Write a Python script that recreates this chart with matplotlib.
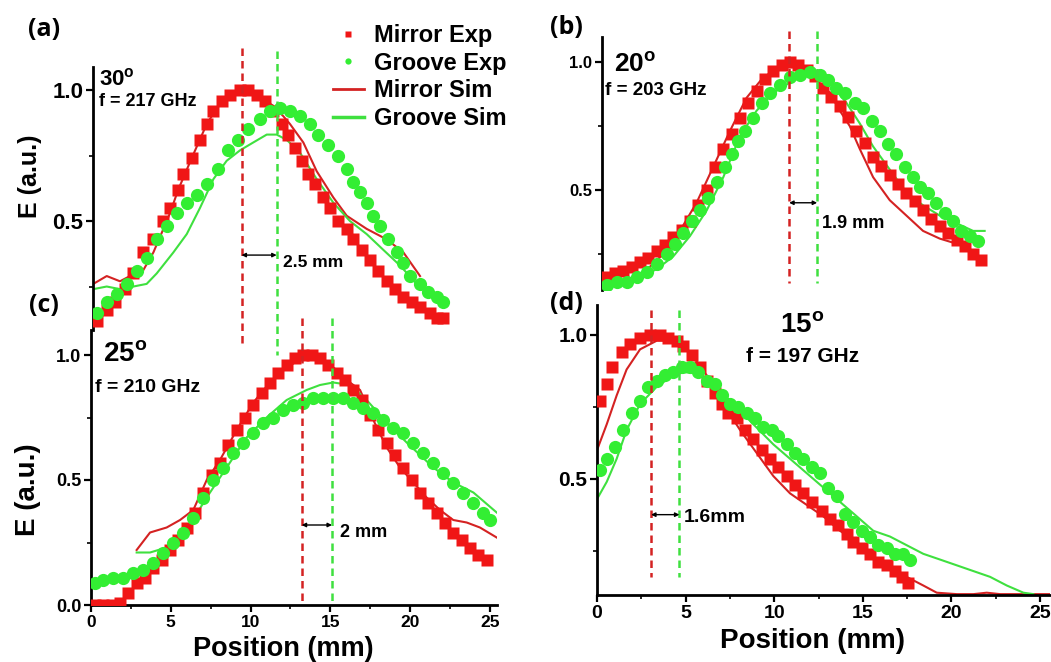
import numpy as np
import matplotlib
matplotlib.use('Agg')
from matplotlib import pyplot as plt
from matplotlib.lines import Line2D

plt.rcParams['font.family'] = ['Liberation Sans', 'DejaVu Sans']
plt.rcParams['font.weight'] = 'bold'
plt.rcParams['mathtext.fontset'] = 'custom'
plt.rcParams['mathtext.rm'] = 'Liberation Sans:bold'

# ---- panel (a) 30 deg, 217 GHz
a_mir_x = [0.23,0.86,1.38,2.00,2.53,3.15,3.78,4.41,4.82,5.34,5.66,6.18,6.70,7.12,7.54,8.06,8.58,9.21,9.73,10.25,10.77,11.29,
           11.82,12.23,12.65,13.07,13.49,13.90,14.42,14.84,15.37,15.89,16.30,16.83,17.35,17.87,18.39,18.91,19.44,19.96,20.48,21.11,21.52,21.94]
a_mir_y = [0.12,0.16,0.19,0.24,0.30,0.38,0.43,0.50,0.55,0.62,0.68,0.74,0.81,0.87,0.92,0.96,0.98,1.00,1.00,0.98,0.96,0.92,
           0.87,0.83,0.78,0.73,0.68,0.64,0.59,0.55,0.50,0.47,0.43,0.39,0.35,0.31,0.27,0.24,0.21,0.19,0.17,0.15,0.13,0.13]
a_grv_x = [0.23,0.86,1.48,2.11,2.74,3.36,3.99,4.61,5.24,5.87,6.49,7.12,7.85,8.48,9.10,9.73,10.46,11.09,11.71,12.34,12.97,13.59,
           14.12,14.74,15.37,15.89,16.30,16.72,17.14,17.56,17.97,18.50,19.02,19.44,19.86,20.48,21.00,21.52,21.94]
a_grv_y = [0.15,0.19,0.22,0.26,0.31,0.36,0.43,0.48,0.53,0.57,0.60,0.64,0.70,0.77,0.81,0.85,0.89,0.92,0.93,0.92,0.90,0.87,
           0.83,0.79,0.75,0.70,0.65,0.61,0.57,0.52,0.48,0.43,0.38,0.34,0.29,0.26,0.23,0.21,0.19]
a_msim_x = [0.02,0.86,1.69,2.32,2.94,3.78,4.41,4.82,5.34,6.18,7.12,8.06,9.21,10.25,11.29,11.92,12.34,13.17,14.01,15.05,15.89,17.14,18.39,19.44,20.48]
a_msim_y = [0.26,0.29,0.27,0.29,0.29,0.38,0.47,0.53,0.62,0.74,0.87,0.96,1.00,0.98,0.94,0.90,0.87,0.80,0.69,0.59,0.52,0.47,0.43,0.38,0.29]
a_gsim_x = [0.02,0.86,1.69,2.53,3.36,3.99,5.03,5.87,6.70,7.54,8.37,9.21,10.04,10.88,11.50,12.13,12.97,14.01,15.05,16.09,17.14,
            18.18,19.23,20.27,21.32,22.15]
a_gsim_y = [0.24,0.25,0.24,0.25,0.26,0.30,0.38,0.45,0.55,0.66,0.73,0.77,0.80,0.83,0.83,0.81,0.76,0.66,0.57,0.50,0.45,
            0.39,0.33,0.26,0.21,0.20]
a_peaks = [9.3, 11.5]

# ---- panel (b) 20 deg, 203 GHz
b_mir_x = [0.26,0.73,1.20,1.68,2.15,2.62,3.09,3.56,4.03,4.50,4.97,5.44,5.91,6.38,6.85,7.32,7.79,8.26,8.73,9.20,9.67,10.14,
           10.61,11.08,11.55,12.02,12.49,12.96,13.43,13.90,14.37,14.84,15.31,15.78,16.25,16.72,17.19,17.66,18.13,18.60,19.07,
           19.55,20.02,20.49,20.96,21.43]
b_mir_y = [0.16,0.175,0.185,0.20,0.22,0.235,0.26,0.285,0.315,0.345,0.38,0.44,0.50,0.59,0.66,0.72,0.78,0.84,0.885,0.935,0.965,0.99,
           1.00,0.99,0.97,0.945,0.90,0.865,0.83,0.785,0.73,0.685,0.63,0.595,0.56,0.525,0.49,0.455,0.42,0.385,0.36,
           0.33,0.305,0.28,0.25,0.225]
b_grv_x = [0.26,0.83,1.39,1.96,2.52,3.09,3.65,4.12,4.59,5.06,5.53,6.00,6.47,6.94,7.32,7.69,8.07,8.54,9.01,9.48,10.04,10.61,
           11.17,11.74,12.30,12.77,13.24,13.71,14.28,14.75,15.22,15.69,16.16,16.63,17.10,17.57,17.95,18.42,18.89,19.36,19.83,
           20.30,20.77,21.24]
b_grv_y = [0.13,0.14,0.14,0.16,0.18,0.21,0.25,0.29,0.33,0.38,0.42,0.47,0.53,0.59,0.64,0.69,0.73,0.78,0.84,0.88,0.91,0.94,
           0.95,0.96,0.95,0.93,0.90,0.88,0.84,0.82,0.77,0.73,0.68,0.64,0.59,0.55,0.51,0.49,0.45,0.41,0.38,
           0.34,0.32,0.30]
b_msim_x = [2.14,2.71,3.46,4.40,5.34,6.28,7.22,8.16,9.10,10.04,10.98,11.93,12.87,13.43,13.99,14.56,15.31,16.25,17.19,18.13,19.07,20.02]
b_msim_y = [0.16,0.20,0.25,0.34,0.45,0.59,0.73,0.86,0.94,0.98,0.98,0.94,0.88,0.81,0.75,0.66,0.55,0.46,0.40,0.34,0.31,0.29]
b_gsim_x = [0.08,1.20,2.14,3.08,4.02,4.97,5.91,6.85,7.79,8.73,9.67,10.61,11.55,12.11,12.87,13.81,14.56,15.31,16.25,17.19,
            18.13,19.07,20.02,20.96,21.61]
b_gsim_y = [0.12,0.13,0.16,0.19,0.24,0.32,0.42,0.55,0.71,0.81,0.88,0.92,0.96,0.96,0.92,0.84,0.76,0.67,0.58,0.49,
            0.44,0.40,0.37,0.34,0.34]
b_peaks = [10.57, 12.15]

# ---- panel (c) 25 deg, 210 GHz
c_mir_x = [0.25,0.77,1.29,1.82,2.34,2.86,3.38,3.91,4.43,4.95,5.47,5.99,6.52,7.04,7.56,8.08,8.60,9.13,9.65,10.17,10.69,11.21,
           11.74,12.26,12.78,13.30,13.82,14.35,14.87,15.39,15.91,16.44,16.96,17.48,18.00,18.52,19.05,19.57,20.09,20.61,21.14,
           21.66,22.18,22.70,23.22,23.75,24.27,24.79]
c_mir_y = [0.00,0.00,0.00,0.01,0.05,0.09,0.11,0.15,0.18,0.22,0.26,0.31,0.37,0.45,0.52,0.57,0.64,0.70,0.75,0.80,0.85,0.89,
           0.93,0.96,0.99,1.00,1.00,0.99,0.96,0.93,0.90,0.86,0.82,0.76,0.70,0.65,0.60,0.55,0.50,0.45,0.41,
           0.37,0.33,0.29,0.26,0.23,0.20,0.18]
c_grv_x = [0.25,0.77,1.40,2.03,2.65,3.28,3.91,4.53,5.16,5.79,6.41,7.04,7.67,8.29,8.92,9.55,10.17,10.80,11.42,12.05,12.68,
           13.30,13.93,14.56,15.18,15.81,16.44,17.06,17.69,18.32,18.94,19.57,20.20,20.82,21.45,22.08,22.70,23.33,23.96,24.58,25.00]
c_grv_y = [0.09,0.10,0.11,0.11,0.13,0.14,0.17,0.21,0.25,0.29,0.35,0.43,0.50,0.55,0.61,0.65,0.69,0.73,0.75,0.78,0.80,
           0.81,0.83,0.83,0.83,0.83,0.81,0.79,0.77,0.74,0.71,0.69,0.65,0.61,0.57,0.53,0.49,0.45,0.41,0.37,0.34]
c_msim_x = [2.86,3.70,4.74,5.58,6.41,7.25,8.08,9.13,10.17,11.21,12.26,13.30,14.35,15.39,16.23,16.86,17.69,18.53,19.36,20.20,
            21.03,21.87,22.70,23.54,24.37,25.42]
c_msim_y = [0.22,0.29,0.31,0.34,0.38,0.50,0.58,0.70,0.81,0.89,0.95,0.99,0.99,0.94,0.89,0.86,0.74,0.63,0.55,0.49,
            0.43,0.38,0.34,0.33,0.31,0.27]
c_gsim_x = [2.86,3.70,4.74,5.99,7.25,8.50,9.75,11.00,12.26,13.51,14.35,15.18,16.23,17.27,18.53,19.78,21.45,22.70,23.96,25.42]
c_gsim_y = [0.21,0.21,0.23,0.30,0.43,0.55,0.67,0.75,0.82,0.86,0.88,0.89,0.88,0.82,0.73,0.65,0.55,0.49,0.45,0.37]
c_peaks = [13.2, 15.1]

# ---- panel (d) 15 deg, 197 GHz
d_mir_x = [0.17,0.55,0.83,1.39,1.86,2.43,3.00,3.56,4.03,4.50,4.87,5.34,5.81,6.19,6.66,7.04,7.41,7.88,8.35,8.82,9.29,9.76,
           10.23,10.70,11.17,11.64,12.11,12.68,13.15,13.62,14.09,14.47,14.94,15.41,15.88,16.35,16.82,17.20,17.57]
d_mir_y = [0.77,0.83,0.89,0.94,0.97,0.99,1.00,1.00,0.99,0.98,0.96,0.93,0.89,0.84,0.80,0.76,0.73,0.71,0.67,0.64,0.60,0.57,
           0.54,0.51,0.48,0.45,0.42,0.39,0.36,0.34,0.31,0.28,0.26,0.24,0.21,0.20,0.18,0.16,0.14]
d_grv_x = [0.17,0.55,1.02,1.49,1.96,2.43,2.90,3.37,3.84,4.31,4.78,5.25,5.72,6.19,6.66,7.04,7.51,7.98,8.45,8.92,9.39,9.86,
           10.23,10.70,11.17,11.64,12.11,12.58,13.05,13.52,13.99,14.47,14.94,15.41,15.88,16.35,16.82,17.29,17.66]
d_grv_y = [0.53,0.57,0.61,0.67,0.73,0.77,0.82,0.84,0.86,0.87,0.89,0.89,0.87,0.84,0.83,0.79,0.76,0.75,0.73,0.71,0.68,0.67,
           0.65,0.62,0.59,0.57,0.54,0.52,0.47,0.44,0.38,0.35,0.32,0.30,0.27,0.26,0.24,0.24,0.22]
d_msim_x = [0.0,0.55,1.11,1.67,2.43,3.37,4.31,5.25,6.19,7.13,8.07,9.01,9.95,10.89,11.83,12.77,13.71,14.65,15.59,16.53,17.47,
            18.41,19.17,20.30,21.24,21.99,22.74,24.06,25.56]
d_msim_y = [0.60,0.69,0.79,0.88,0.95,0.98,0.98,0.94,0.86,0.76,0.67,0.59,0.51,0.45,0.41,0.37,0.32,0.28,0.23,0.20,0.16,
            0.13,0.105,0.10,0.10,0.105,0.10,0.10,0.10]
d_gsim_x = [0.0,0.55,1.11,1.67,2.43,3.37,4.31,4.87,5.63,6.57,7.70,8.82,9.95,11.08,12.21,13.34,14.47,15.59,16.53,17.47,
            18.41,19.36,20.30,21.24,22.18,23.12,24.06,24.62]
d_gsim_y = [0.43,0.49,0.57,0.67,0.76,0.82,0.86,0.87,0.87,0.83,0.76,0.69,0.62,0.56,0.50,0.44,0.38,0.32,0.30,0.27,
            0.24,0.22,0.20,0.18,0.16,0.13,0.105,0.10]
d_peaks = [3.05, 4.65]

RED = '#f01616'
GREEN = '#33ee33'
RED_L = '#d42222'
GREEN_L = '#3fe03f'

W, H = 1051, 662
fig = plt.figure(figsize=(W / 100, H / 100), dpi=100)


def px_box(left, right, top, bottom):
    return [left / W, 1 - bottom / H, (right - left) / W, (bottom - top) / H]


def fpos(px, py):
    return px / W, 1 - py / H


def draw_panel(ax, mx, my, gx, gy, msx, msy, gsx, gsy, peaks, dash_y):
    ax.plot(msx, msy, color=RED_L, lw=1.5, zorder=2)
    ax.plot(gsx, gsy, color=GREEN_L, lw=1.5, zorder=2)
    ax.plot(mx, my, 's', color=RED, ms=8.5, mec='none', zorder=3)
    ax.plot(gx, gy, 'o', color=GREEN, ms=9.5, mec='none', zorder=4)
    ax.plot([peaks[0], peaks[0]], dash_y[0], color=RED_L, lw=1.8, ls=(0, (3, 2)), zorder=5, clip_on=False)
    ax.plot([peaks[1], peaks[1]], dash_y[1], color=GREEN_L, lw=1.8, ls=(0, (3, 2)), zorder=5, clip_on=False)


def style(ax, xlim, ylim, yticks, ysize, xsize=None):
    ax.set_xlim(xlim)
    ax.set_ylim(ylim)
    ax.patch.set_visible(False)
    for s in ['top', 'right']:
        ax.spines[s].set_visible(False)
    ax.spines['left'].set_linewidth(2)
    ax.set_yticks(yticks)
    ax.set_yticklabels(['%.1f' % v for v in yticks], fontweight='bold')
    ax.set_yticks([0.25, 0.75], minor=True)
    ax.tick_params(axis='y', which='major', direction='out', length=5, width=1.6, labelsize=ysize, pad=2)
    ax.tick_params(axis='y', which='minor', direction='out', length=3, width=1.2)
    if xsize is None:
        ax.spines['bottom'].set_visible(False)
        ax.set_xticks([])
    else:
        ax.spines['bottom'].set_linewidth(2)
        ax.set_xticks([0, 5, 10, 15, 20, 25])
        ax.set_xticklabels(['0', '5', '10', '15', '20', '25'], fontweight='bold')
        ax.set_xticks([2.5, 7.5, 12.5, 17.5, 22.5], minor=True)
        ax.tick_params(axis='x', which='major', direction='out', length=5, width=1.6, labelsize=xsize, pad=2)
        ax.tick_params(axis='x', which='minor', direction='out', length=3, width=1.2)


def dim_arrow(ax, peaks, y, label, tx, ty, size):
    ax.annotate('', xy=(peaks[1], y), xytext=(peaks[0], y),
                arrowprops=dict(arrowstyle='<|-|>', color='k', lw=1, mutation_scale=6, shrinkA=0, shrinkB=0), zorder=6)
    ax.text(tx, ty, label, fontsize=size, fontweight='bold', va='center', ha='left', zorder=6)


ax_c = fig.add_axes(px_box(91, 497, 330, 605))
ax_a = fig.add_axes(px_box(93, 497, 67, 330))
ax_d = fig.add_axes(px_box(597, 1050, 305, 595))
ax_b = fig.add_axes(px_box(602, 1050, 37, 290))

# (a)
draw_panel(ax_a, a_mir_x, a_mir_y, a_grv_x, a_grv_y, a_msim_x, a_msim_y, a_gsim_x, a_gsim_y, a_peaks,
           [(1.16, 0.03), (1.15, -0.01)])
style(ax_a, (0, 25.3), (0.084, 1.088), [0.5, 1.0], 16)
dim_arrow(ax_a, a_peaks, 0.37, '2.5 mm', 11.9, 0.343, 12.5)
ax_a.text(0.35, 1.04, '30$^{\\mathrm{o}}$', fontsize=16, fontweight='bold', va='center')
ax_a.text(0.35, 0.955, 'f = 217 GHz', fontsize=13, fontweight='bold', va='center')

# (b)
draw_panel(ax_b, b_mir_x, b_mir_y, b_grv_x, b_grv_y, b_msim_x, b_msim_y, b_gsim_x, b_gsim_y, b_peaks,
           [(1.12, 0.135), (1.12, 0.135)])
style(ax_b, (0, 25.3), (0.109, 1.098), [0.5, 1.0], 12)
dim_arrow(ax_b, b_peaks, 0.45, '1.9 mm', 12.4, 0.37, 13)
ax_b.text(0.7, 0.99, '20$^{\\mathrm{o}}$', fontsize=19, fontweight='bold', va='center')
ax_b.text(0.15, 0.89, 'f = 203 GHz', fontsize=13.5, fontweight='bold', va='center')

# (c)
draw_panel(ax_c, c_mir_x, c_mir_y, c_grv_x, c_grv_y, c_msim_x, c_msim_y, c_gsim_x, c_gsim_y, c_peaks,
           [(1.15, 0.0), (1.15, 0.0)])
style(ax_c, (0, 25.44), (0, 1.1), [0.0, 0.5, 1.0], 13, 12.5)
dim_arrow(ax_c, c_peaks, 0.32, '2 mm', 15.6, 0.29, 13)
ax_c.text(0.75, 1.0, '25$^{\\mathrm{o}}$', fontsize=20, fontweight='bold', va='center')
ax_c.text(0.25, 0.87, 'f = 210 GHz', fontsize=14, fontweight='bold', va='center')

# (d)
draw_panel(ax_d, d_mir_x, d_mir_y, d_grv_x, d_grv_y, d_msim_x, d_msim_y, d_gsim_x, d_gsim_y, d_peaks,
           [(1.087, 0.16), (1.087, 0.16)])
style(ax_d, (0, 25.56), (0.097, 1.104), [0.5, 1.0], 15, 14)
dim_arrow(ax_d, d_peaks, 0.376, '1.6mm', 4.9, 0.365, 14)
ax_d.text(11.6, 1.03, '15$^{\\mathrm{o}}$', fontsize=20, fontweight='bold', va='center', ha='center')
ax_d.text(11.6, 0.925, 'f = 197 GHz', fontsize=15, fontweight='bold', va='center', ha='center')

# axis titles
fig.text(*fpos(30, 176), 'E (a.u.)', fontsize=18, fontweight='bold', rotation=90, ha='center', va='center')
fig.text(*fpos(28, 490), 'E (a.u.)', fontsize=20, fontweight='bold', rotation=90, ha='center', va='center')
fig.text(*fpos(283, 649), 'Position (mm)', fontsize=19.5, fontweight='bold', ha='center', va='center')
fig.text(*fpos(812, 641), 'Position (mm)', fontsize=20, fontweight='bold', ha='center', va='center')

# panel letters
for lab, (px, py) in zip(['(a)', '(b)', '(c)', '(d)'], [(44, 29), (566, 27), (44, 306), (566, 304)]):
    fig.text(*fpos(px, py), lab, fontsize=18, fontweight='bold', family='Open Sans', ha='center', va='center')

handles = [Line2D([], [], ls='none', marker='s', color=RED, ms=4, mec='none'),
           Line2D([], [], ls='none', marker='o', color=GREEN, ms=4.5, mec='none'),
           Line2D([], [], color=RED_L, lw=2),
           Line2D([], [], color=GREEN_L, lw=2.5)]
fig.legend(handles, ['Mirror Exp', 'Groove Exp', 'Mirror Sim', 'Groove Sim'],
           loc='upper left', bbox_to_anchor=fpos(333, 24), frameon=False,
           handlelength=1.3, handletextpad=0.45, labelspacing=0.2, borderpad=0, borderaxespad=0,
           prop={'weight': 'bold', 'size': 17})

fig.savefig('out.png', dpi=100)
